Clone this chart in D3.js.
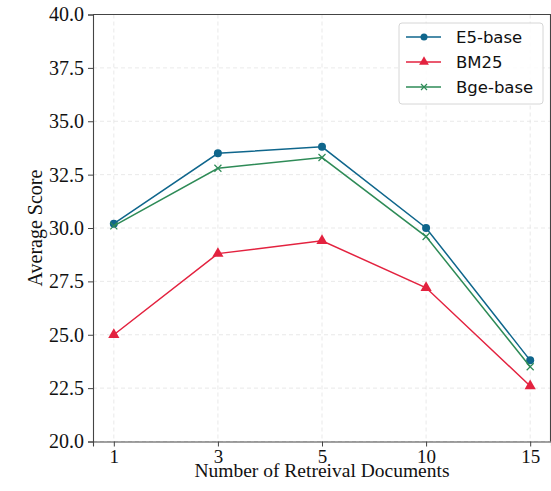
<!DOCTYPE html>
<html>
<head>
<meta charset="utf-8">
<script src="https://cdn.jsdelivr.net/npm/d3@7"></script>
<style>
  body { margin: 0; background: #fff; }
  svg { display: block; }
  .axis text { font-family: "Liberation Serif", "Times New Roman", serif; fill: #111; }
</style>
</head>
<body>
<div id="chart"></div>
<script>
// data
var categories = ["1", "3", "5", "10", "15"];
var e5Base = [30.2, 33.5, 33.8, 30.0, 23.8];
var bm25 = [25.0, 28.8, 29.4, 27.2, 22.6];
var bgeBase = [30.1, 32.8, 33.3, 29.6, 23.5];
var yTicks = [20.0, 22.5, 25.0, 27.5, 30.0, 32.5, 35.0, 37.5, 40.0];

var series = [
    {name: "E5-base", values: e5Base, color: "#0f668c", marker: "circle"},
    {name: "BM25", values: bm25, color: "#e3223f", marker: "triangle"},
    {name: "Bge-base", values: bgeBase, color: "#2e8b57", marker: "x"}
];

var W = 551, H = 491;
var margin = {top: 14.5, right: 0, bottom: 49.5, left: 93};
var width = W - margin.left - margin.right,
    height = H - margin.top - margin.bottom;

var svg = d3.select("#chart").append("svg")
    .attr("width", W)
    .attr("height", H);

var g = svg.append("g")
    .attr("transform", "translate(" + margin.left + "," + margin.top + ")");

var x = d3.scalePoint()
    .domain(categories)
    .range([0, width])
    .padding(0.2);

var y = d3.scaleLinear()
    .domain([20, 40])
    .range([height, 0]);

// grid
g.append("g").selectAll("line.hg")
    .data(yTicks)
    .enter().append("line")
    .attr("x1", 0).attr("x2", width)
    .attr("y1", function (d) { return y(d); })
    .attr("y2", function (d) { return y(d); })
    .attr("stroke", "#e3e3e3")
    .attr("stroke-width", 0.8)
    .attr("stroke-dasharray", "4,3");

g.append("g").selectAll("line.vg")
    .data(categories)
    .enter().append("line")
    .attr("y1", 0).attr("y2", height)
    .attr("x1", function (d) { return x(d); })
    .attr("x2", function (d) { return x(d); })
    .attr("stroke", "#e3e3e3")
    .attr("stroke-width", 0.8)
    .attr("stroke-dasharray", "4,3");

// axes
var xAxis = g.append("g")
    .attr("class", "axis")
    .attr("transform", "translate(0," + height + ")")
    .call(d3.axisBottom(x).tickSizeOuter(0).tickSize(5).tickPadding(3));

var yAxis = g.append("g")
    .attr("class", "axis")
    .call(d3.axisLeft(y).tickValues(yTicks).tickFormat(d3.format(".1f"))
        .tickSizeOuter(0).tickSize(5).tickPadding(4));

xAxis.attr("font-family", "Liberation Serif").attr("font-size", 19);
yAxis.attr("font-family", "Liberation Serif").attr("font-size", 20);
[xAxis, yAxis].forEach(function (a) {
    a.select(".domain").attr("stroke", "#444").attr("stroke-width", 1.1);
    a.selectAll(".tick line").attr("stroke", "#444").attr("stroke-width", 1);
});

// top / right spines
g.append("line").attr("x1", 0).attr("x2", width).attr("y1", 0).attr("y2", 0)
    .attr("stroke", "#444").attr("stroke-width", 1.1);
g.append("line").attr("x1", width - 0.5).attr("x2", width - 0.5).attr("y1", 0).attr("y2", height)
    .attr("stroke", "#444").attr("stroke-width", 1.1);

// lines
var line = d3.line()
    .x(function (d, i) { return x(categories[i]); })
    .y(function (d) { return y(d); });

function drawMarker(sel, type, color, cx, cy, s) {
    if (type === "circle") {
        sel.append("circle").attr("cx", cx).attr("cy", cy).attr("r", s)
            .attr("fill", color);
    } else if (type === "triangle") {
        sel.append("path")
            .attr("d", d3.symbol().type(d3.symbolTriangle).size(s * s * 3.4)())
            .attr("transform", "translate(" + cx + "," + cy + ")")
            .attr("fill", color);
    } else {
        sel.append("path")
            .attr("d", "M" + (-s) + "," + (-s) + "L" + s + "," + s + "M" + (-s) + "," + s + "L" + s + "," + (-s))
            .attr("transform", "translate(" + cx + "," + cy + ")")
            .attr("stroke", color).attr("stroke-width", 1.2).attr("fill", "none");
    }
}

series.forEach(function (s) {
    g.append("path")
        .datum(s.values)
        .attr("d", line)
        .attr("fill", "none")
        .attr("stroke", s.color)
        .attr("stroke-width", 1.5);
    var mg = g.append("g");
    s.values.forEach(function (v, i) {
        drawMarker(mg, s.marker, s.color, x(categories[i]), y(v), s.marker === "x" ? 3.5 : 4);
    });
});

// legend
var legend = g.append("g")
    .attr("transform", "translate(" + (399 - margin.left) + "," + (23 - margin.top) + ")");
legend.append("rect")
    .attr("width", 144).attr("height", 81)
    .attr("rx", 3)
    .attr("fill", "#fff").attr("fill-opacity", 0.85)
    .attr("stroke", "#d6d6d6");

series.forEach(function (s, i) {
    var ly = 14 + i * 25;
    var row = legend.append("g");
    row.append("line").attr("x1", 7).attr("x2", 42).attr("y1", ly).attr("y2", ly)
        .attr("stroke", s.color).attr("stroke-width", 1.5);
    drawMarker(row, s.marker, s.color, 25, ly, s.marker === "x" ? 3 : 3.5);
    row.append("text")
        .attr("x", 57).attr("y", ly)
        .attr("dy", "0.36em")
        .style("font-family", "'DejaVu Sans', sans-serif")
        .style("font-size", "16.5px")
        .attr("fill", "#111")
        .text(s.name);
});

// axis titles
svg.append("text")
    .attr("x", margin.left + width / 2)
    .attr("y", 477)
    .attr("text-anchor", "middle")
    .style("font-family", "'Liberation Serif', 'Times New Roman', serif")
    .style("font-size", "19.5px")
    .attr("fill", "#111")
    .text("Number of Retreival Documents");

svg.append("text")
    .attr("transform", "translate(42," + (margin.top + height / 2) + ") rotate(-90)")
    .attr("text-anchor", "middle")
    .style("font-family", "'Liberation Serif', 'Times New Roman', serif")
    .style("font-size", "20px")
    .attr("fill", "#111")
    .text("Average Score");
</script>
</body>
</html>
